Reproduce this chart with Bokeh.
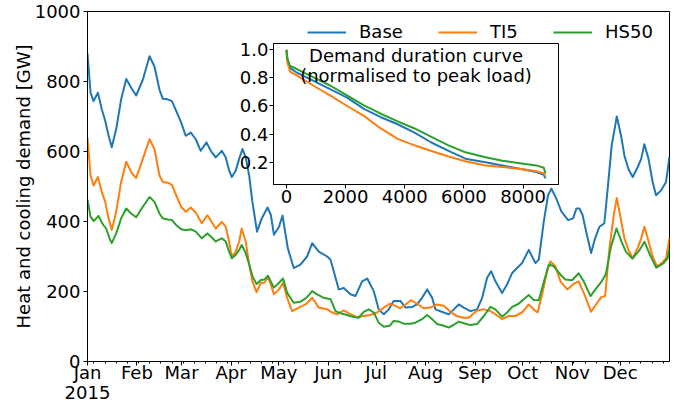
from bokeh.plotting import figure
from bokeh.models import Range1d, FixedTicker, Legend, LegendItem, Label, NumeralTickFormatter, LinearAxis
from bokeh.layouts import column
from bokeh.embed import file_html
from bokeh.resources import INLINE

# ---------------- data ----------------
month_start_day = [0, 31, 59, 90, 120, 151, 181, 212, 243, 273, 304, 334]
month_labels = ["Jan", "Feb", "Mar", "Apr", "May", "Jun", "Jul", "Aug", "Sep", "Oct", "Nov", "Dec"]
year_label = "2015"
y_ticks = [0, 200, 400, 600, 800, 1000]

base_day = [0, 1.9, 3.8, 6.5, 9.0, 11.1, 13.2, 15.2, 18.0, 21.1, 24.3, 27.4, 30.5, 34.7, 38.9, 42.0,
            45.1, 47.2, 50.3, 52.9, 55.6, 58.7, 61.6, 64.8, 67.9, 71.0, 74.6, 77.3, 80.4, 84.2, 86.7,
            88.8, 90.5, 93.0, 95.1, 97.2, 99.2, 101.4, 103.4, 106.3, 109.1, 112.9, 115.0, 116.9, 120.1,
            122.3, 125.6, 129.3, 133.5, 137.7, 140.9, 145.0, 150.3, 152.4, 157.6, 160.7, 164.9, 168.0,
            172.2, 175.4, 179.5, 182.6, 185.8, 188.9, 192.0, 196.2, 199.4, 203.6, 206.7, 209.8, 213.0,
            216.1, 218.2, 223.4, 226.5, 229.7, 232.8, 235.9, 240.1, 244.3, 247.5, 250.6, 253.1, 255.8,
            260.0, 263.1, 266.3, 269.4, 272.5, 276.7, 280.9, 283.0, 286.1, 288.8, 290.9, 294.0, 297.2,
            301.4, 304.5, 306.6, 308.5, 310.5, 312.7, 315.8, 318.3, 321.0, 324.1, 326.2, 328.7, 331.9,
            334.6, 336.7, 339.2, 341.9, 345.0, 347.2, 349.2, 351.8, 354.4, 356.5, 359.7, 362.8, 364.9]
base_gw = [880, 768, 744, 768, 720, 688, 646, 612, 664, 749, 807, 782, 760, 805, 872, 843,
           777, 751, 749, 744, 716, 683, 645, 654, 635, 602, 626, 602, 583, 602, 583,
           546, 527, 546, 579, 607, 583, 531, 456, 371, 407, 440, 418, 362, 385,
           417, 324, 267, 277, 300, 338, 314, 300, 291, 206, 210, 192, 187,
           229, 237, 201, 149, 135, 149, 173, 173, 154, 156, 163, 182, 206,
           182, 149, 140, 135, 149, 163, 154, 144, 149, 182, 239, 258, 229,
           196, 220, 253, 267, 281, 319, 281, 291, 399, 475, 494, 465, 428,
           404, 409, 437, 437, 418, 371, 310, 352, 385, 395, 494, 617, 700,
           645, 588, 550, 527, 555, 579, 621, 579, 513, 475, 489, 513, 584]

ti5_day = [0, 1.9, 3.8, 6.5, 9.0, 11.1, 13.2, 15.2, 18.0, 21.1, 24.3, 27.4, 30.5, 34.7, 38.9, 42.0,
           45.1, 47.2, 50.3, 52.9, 55.6, 58.7, 61.6, 64.8, 67.9, 71.7, 75.2, 78.4, 80.4, 84.2, 86.7,
           88.8, 90.5, 93.0, 95.1, 96.7, 99.2, 101.4, 103.4, 106.0, 108.7, 110.8, 113.2, 114.9, 116.9,
           120.1, 122.6, 125.2, 128.3, 132.5, 136.7, 140.9, 145.0, 150.3, 153.4, 156.6, 160.7, 164.9,
           169.1, 173.2, 177.4, 181.6, 185.8, 189.5, 193.1, 196.2, 199.4, 202.9, 206.7, 210.8, 215.0,
           219.2, 223.4, 227.6, 231.8, 235.9, 239.1, 244.3, 248.5, 252.7, 255.8, 260.0, 264.1, 268.3,
           272.5, 276.7, 279.8, 282.3, 285.1, 288.2, 290.3, 293.4, 296.6, 300.8, 304.9, 308.0, 311.6,
           315.8, 318.9, 322.1, 324.6, 327.3, 330.0, 331.9, 334.0, 336.7, 339.2, 341.9, 345.0, 347.2,
           349.2, 351.3, 354.4, 357.2, 360.1, 362.8, 364.9]
ti5_gw = [640, 532, 503, 527, 484, 456, 409, 376, 428, 513, 571, 541, 524, 579, 635, 607,
          532, 513, 511, 505, 475, 442, 428, 440, 425, 395, 418, 395, 380, 399, 385,
          343, 300, 314, 343, 380, 343, 277, 229, 198, 225, 225, 240, 220, 192,
          206, 225, 182, 144, 154, 163, 182, 154, 149, 140, 135, 146, 135,
          127, 130, 133, 140, 154, 165, 159, 152, 163, 175, 165, 152, 154,
          163, 159, 142, 129, 125, 125, 146, 149, 144, 135, 121, 130, 130,
          140, 163, 149, 140, 192, 258, 286, 272, 229, 206, 222, 229, 192,
          142, 163, 184, 187, 324, 418, 467, 418, 352, 319, 295, 324, 352,
          385, 352, 300, 272, 281, 295, 352]

hs50_day = [0, 1.9, 3.9, 6.9, 9.6, 11.7, 13.8, 15.2, 18.0, 21.1, 24.3, 27.4, 30.5, 34.7, 38.9, 42.0,
            45.1, 47.2, 50.3, 52.9, 55.6, 58.7, 61.6, 64.8, 67.9, 71.7, 75.2, 78.4, 80.4, 84.2, 86.7,
            88.8, 90.5, 93.0, 95.1, 96.7, 99.2, 101.4, 103.4, 106.0, 108.7, 110.8, 113.2, 114.9, 116.9,
            120.1, 122.6, 125.2, 129.3, 133.5, 137.3, 140.9, 144.0, 148.2, 152.4, 155.5, 158.6, 162.8,
            167.0, 170.1, 173.2, 176.4, 179.5, 182.6, 185.8, 189.5, 192.0, 195.2, 198.3, 202.5, 205.6,
            209.8, 213.0, 216.1, 219.2, 223.4, 226.5, 229.7, 232.8, 237.0, 240.1, 244.3, 248.5, 252.7,
            255.8, 260.0, 263.1, 266.3, 270.4, 273.5, 276.7, 279.8, 283.0, 285.7, 289.3, 292.4, 296.6,
            299.7, 303.9, 308.0, 311.2, 315.4, 318.9, 322.3, 325.1, 328.1, 331.7, 334.8, 337.6, 341.7,
            345.8, 349.3, 352.7, 356.7, 361.0, 363.8, 364.9]
hs50_gw = [462, 414, 401, 416, 392, 380, 352, 338, 366, 409, 437, 423, 412, 442, 470, 456,
           423, 409, 406, 404, 390, 378, 375, 378, 371, 352, 366, 352, 343, 352, 343,
           314, 295, 305, 319, 333, 310, 277, 244, 221, 233, 234, 245, 229, 211,
           225, 237, 196, 168, 171, 182, 201, 192, 182, 178, 144, 138, 133,
           127, 125, 142, 149, 140, 111, 99, 102, 116, 114, 108, 108, 111,
           121, 133, 121, 107, 102, 97, 105, 114, 108, 104, 107, 130, 156,
           149, 128, 140, 156, 165, 178, 190, 176, 175, 220, 277, 272, 248,
           234, 232, 252, 229, 187, 208, 228, 250, 325, 380, 343, 314, 294,
           316, 342, 305, 268, 280, 295, 322]

# demand duration curves (normalised to peak load)
ddc_hours = [0, 30, 120, 333, 900, 1475, 2050, 2620, 3190, 3760, 4330, 4900, 5480, 6050,
             6730, 7300, 7880, 8450, 8700, 8759]
ddc_base = [1.0, 0.93, 0.87, 0.84, 0.78, 0.72, 0.66, 0.58, 0.52, 0.47, 0.41, 0.34, 0.28, 0.225,
            0.20, 0.177, 0.153, 0.13, 0.11, 0.085]
ddc_ti5 = [1.0, 0.91, 0.845, 0.82, 0.746, 0.675, 0.60, 0.53, 0.44, 0.366, 0.32, 0.28, 0.24, 0.207,
           0.177, 0.165, 0.153, 0.135, 0.12, 0.10]
ddc_hs50 = [1.0, 0.94, 0.885, 0.865, 0.805, 0.746, 0.675, 0.604, 0.545, 0.49, 0.44, 0.38, 0.32, 0.27,
            0.235, 0.21, 0.193, 0.177, 0.16, 0.12]
inset_x_ticks = [0, 2000, 4000, 6000, 8000]
inset_y_ticks = [0.2, 0.4, 0.6, 0.8, 1.0]
inset_title = ["Demand duration curve", "(normalised to peak load)"]

series_names = ["Base", "TI5", "HS50"]
colors = ["#1f77b4", "#ff7f0e", "#2ca02c"]
FONT = "DejaVu Sans"
FS = "18px"

# ---------------- main figure ----------------
W, H = 686, 407
BL, BR, BT, BB = 87, 17, 11, 46
p = figure(width=W, height=H, output_backend="svg", toolbar_location=None,
           x_range=Range1d(0, 364.96), y_range=Range1d(0, 1000),
           min_border_left=BL, min_border_right=BR, min_border_top=BT, min_border_bottom=BB)
p.grid.visible = False
p.outline_line_color = "black"
p.outline_line_width = 1
p.background_fill_color = "white"

renderers = []
for (d, v), c in zip([(base_day, base_gw), (ti5_day, ti5_gw), (hs50_day, hs50_gw)], colors):
    renderers.append(p.line(d, v, line_color=c, line_width=2, line_join="round"))

mondays = [d for d in range(4, 365, 7) if d not in month_start_day]
p.xaxis.ticker = FixedTicker(ticks=month_start_day, minor_ticks=mondays)
p.xaxis.major_label_overrides = {d: m for d, m in zip(month_start_day, month_labels)}
p.yaxis.ticker = FixedTicker(ticks=y_ticks)
p.yaxis.axis_label = "Heat and cooling demand [GW]"

for ax in (p.xaxis[0], p.yaxis[0]):
    ax.axis_line_color = "black"
    ax.major_tick_line_color = "black"
    ax.minor_tick_line_color = "black"
    ax.major_tick_out = 4
    ax.major_tick_in = 0
    ax.minor_tick_out = 2
    ax.minor_tick_in = 0
    ax.major_label_text_font = FONT
    ax.major_label_text_font_size = FS
    ax.major_label_text_color = "black"
    ax.axis_label_text_font = FONT
    ax.axis_label_text_font_size = FS
    ax.axis_label_text_font_style = "normal"
    ax.axis_label_text_color = "black"
p.yaxis.minor_tick_line_color = None
p.xaxis.major_label_standoff = -4
p.yaxis.major_label_standoff = 3
p.yaxis.axis_label_standoff = -2

# second label row: the year under "Jan"
year_axis = LinearAxis(ticker=FixedTicker(ticks=[0]), major_label_overrides={0: year_label},
                       axis_line_color=None, major_tick_line_color=None, minor_tick_line_color=None,
                       major_tick_out=0, major_tick_in=0, major_label_standoff=0,
                       major_label_text_font=FONT, major_label_text_font_size=FS,
                       major_label_text_color="black")
p.add_layout(year_axis, "below")

legend_x = [220, 351, 466]
for n, r, lx in zip(series_names, renderers, legend_x):
    lg = Legend(items=[LegendItem(label=n, renderers=[r])],
                orientation="horizontal", location=(lx, 319),
                glyph_width=39, glyph_height=20, label_standoff=13, spacing=0,
                padding=0, margin=0, border_line_alpha=0, background_fill_alpha=0,
                label_text_font=FONT, label_text_font_size=FS, label_text_color="black")
    p.add_layout(lg)

# ---------------- inset ----------------
IW_frame, IH_frame = 285, 141
inset = figure(width=BL + IW_frame + BR, height=5 + IH_frame + 28, output_backend="svg",
               toolbar_location=None,
               x_range=Range1d(-438, 9198), y_range=Range1d(0.041, 1.045),
               min_border_left=BL, min_border_right=BR, min_border_top=5, min_border_bottom=28)
inset.grid.visible = False
inset.border_fill_alpha = 0
inset.background_fill_color = "white"
inset.outline_line_color = "black"
inset.outline_line_width = 1
for vals, c in zip([ddc_base, ddc_ti5, ddc_hs50], colors):
    inset.line(ddc_hours, vals, line_color=c, line_width=2, line_join="round")
inset.xaxis.ticker = FixedTicker(ticks=inset_x_ticks)
inset.yaxis.ticker = FixedTicker(ticks=inset_y_ticks)
inset.yaxis.formatter = NumeralTickFormatter(format="0.0")
for ax in (inset.xaxis[0], inset.yaxis[0]):
    ax.axis_line_color = "black"
    ax.major_tick_line_color = "black"
    ax.minor_tick_line_color = None
    ax.major_tick_out = 4
    ax.major_tick_in = 0
    ax.major_label_standoff = 1
    ax.major_label_text_font = FONT
    ax.major_label_text_font_size = FS
    ax.major_label_text_color = "black"

xc = (inset.x_range.start + inset.x_range.end) / 2
for txt, yy in zip(inset_title, [0.96, 0.817]):
    inset.add_layout(Label(x=xc, y=yy, text=txt, text_align="center", text_baseline="middle",
                           text_font=FONT, text_font_size=FS, text_color="black"))

# inset frame at page (273, 43)
inset.styles = {"position": "absolute", "left": f"{273 - BL}px", "top": f"{43 - 5}px", "z-index": "1"}
layout = column(p, inset)
layout.styles = {"position": "relative"}

open("out.html", "w").write(file_html(layout, INLINE))
